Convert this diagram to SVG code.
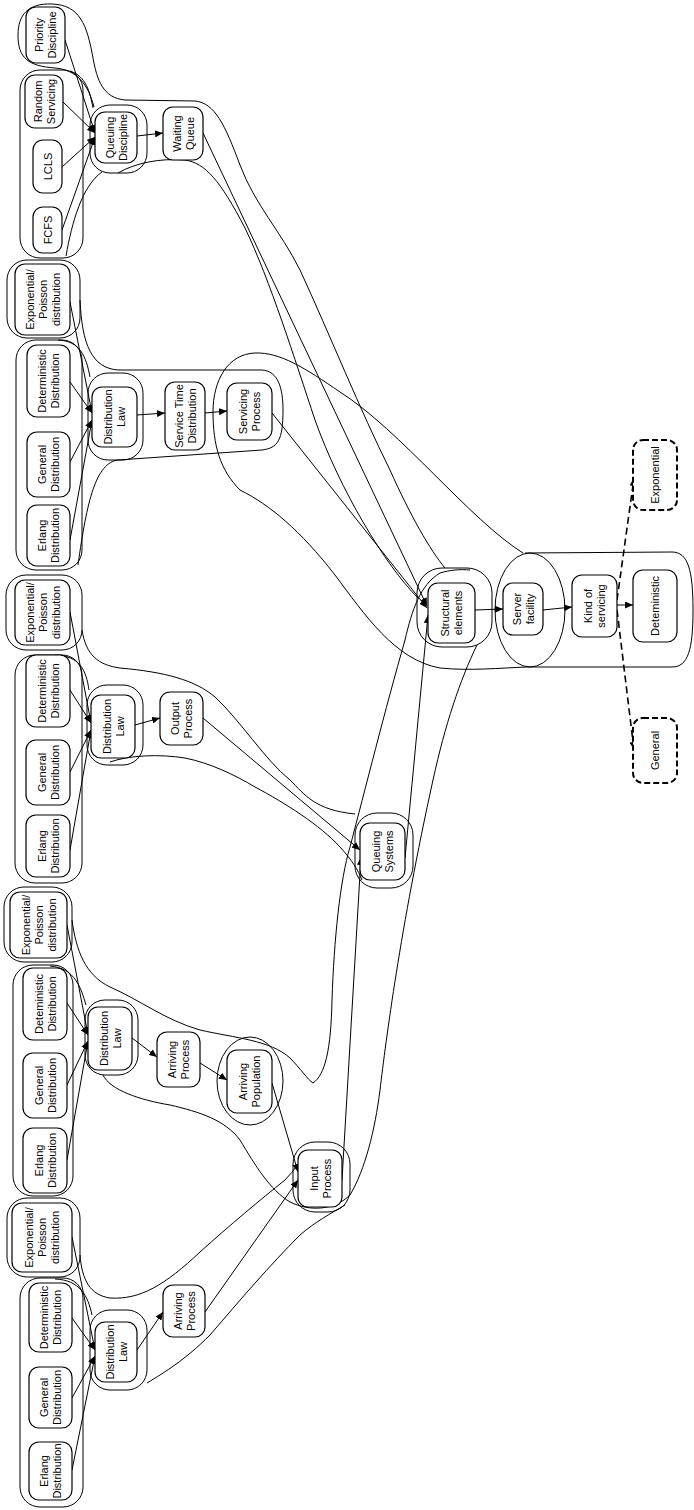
<svg xmlns="http://www.w3.org/2000/svg" width="694" height="1510" viewBox="0 0 694 1510">
<defs>
<marker id="ah" markerUnits="userSpaceOnUse" markerWidth="9" markerHeight="7" refX="8" refY="3.5" orient="auto"><path d="M0,0 L8,3.5 L0,7 z" fill="#000"/></marker>
<style>
.blob{fill:none;stroke:#000;stroke-width:1}
.n rect{fill:#fff;stroke:#000;stroke-width:1.2}
.n.d rect{stroke-width:2;stroke-dasharray:6,3}
.n text{font-family:"Liberation Sans",Arial,sans-serif;font-size:11px;fill:#000;text-anchor:middle}
.c{fill:none;stroke:#000;stroke-width:1;marker-end:url(#ah)}
.c.d{stroke-width:1.6;stroke-dasharray:7,4}
</style>
</defs>
<rect width="694" height="1510" fill="#fff"/>
<g id="blobs">
<rect class="blob" x="20" y="70" width="63" height="188" rx="20"/>
<rect class="blob" x="90" y="105" width="57" height="68" rx="20"/>
<path class="blob" d="M70,71 C86,76 90,92 93,108"/>
<path class="blob" d="M102,172 C82,186 72,222 66,256"/>
<path class="blob" d="M94,107 C88,84 77,70 55,68 C28,66 18,58 18,35 C18,15 28,3 52,4 C80,5 87,25 93,58 C97,80 103,98 125,100 L195,101 C215,103 225,125 240,165 C255,205 280,230 300,270 C330,335 360,410 390,470 C410,515 430,550 445,568"/>
<path class="blob" d="M118,173 C135,163 160,158 185,160 C205,163 220,180 245,228 C270,280 295,360 315,420 C340,490 385,565 418,598"/>
<rect class="blob" x="7" y="260" width="73" height="78" rx="20"/>
<rect class="blob" x="16" y="340" width="66" height="230" rx="20"/>
<rect class="blob" x="88" y="373" width="55" height="87" rx="20"/>
<path class="blob" d="M58,340 C80,341 86,356 90,377"/>
<path class="blob" d="M80,300 C82,345 92,368 118,370 L262,370 C278,371 283,388 283,410 C283,440 278,448 262,450 L118,460 C96,463 87,500 78,565"/>
<path class="blob" d="M523,553 C470,520 400,430 340,392 C305,368 280,352 255,353 C228,354 213,380 213,412 C213,445 220,470 240,490 C270,505 300,530 335,575 C365,615 395,660 440,668 C470,671 500,668 527,667"/>
<rect class="blob" x="6" y="575" width="76" height="75" rx="20"/>
<rect class="blob" x="15" y="655" width="67" height="228" rx="20"/>
<rect class="blob" x="87" y="685" width="56" height="80" rx="20"/>
<path class="blob" d="M55,655 C80,656 86,670 89,690"/>
<path class="blob" d="M82,630 C86,655 98,665 120,668 C165,672 195,680 215,697 C240,720 265,760 290,780 C305,795 315,810 355,814"/>
<path class="blob" d="M110,762 C130,755 160,754 185,758 C210,763 235,775 255,787 C285,803 320,825 340,847 C352,860 358,870 362,880"/>
<rect class="blob" x="355" y="813" width="58" height="75" rx="22"/>
<rect class="blob" x="4" y="887" width="68" height="75" rx="20"/>
<rect class="blob" x="13" y="965" width="60" height="231" rx="20"/>
<rect class="blob" x="85" y="1000" width="53" height="75" rx="20"/>
<path class="blob" d="M50,966 C75,968 81,988 86,1005"/>
<path class="blob" d="M72,920 C76,950 85,975 110,987 C140,1000 165,1020 200,1030 C235,1038 270,1040 290,1058 C300,1068 308,1080 313,1083 C325,1075 331,1050 332,1000 C334,940 340,880 350,847 C365,790 385,710 405,640 C412,610 420,585 440,573 C450,570 460,569 470,570"/>
<path class="blob" d="M103,1075 C110,1090 140,1100 170,1105 C200,1112 225,1120 240,1140 C255,1165 270,1190 290,1202 C310,1212 335,1210 350,1195 C365,1170 375,1130 380,1090 C386,1040 400,930 433,780 C445,725 460,680 477,645"/>
<ellipse class="blob" cx="250" cy="1081" rx="33" ry="44"/>
<rect class="blob" x="7" y="1198" width="73" height="79" rx="20"/>
<rect class="blob" x="20" y="1278" width="63" height="229" rx="20"/>
<rect class="blob" x="90" y="1310" width="57" height="80" rx="20"/>
<path class="blob" d="M55,1279 C80,1280 88,1296 92,1315"/>
<path class="blob" d="M80,1255 C82,1280 90,1295 110,1298 C140,1300 165,1285 200,1252 C230,1225 260,1200 285,1180 C295,1170 300,1160 310,1150"/>
<path class="blob" d="M147,1383 C165,1372 185,1360 210,1335 C240,1300 270,1265 300,1235 C315,1222 330,1214 345,1205"/>
<rect class="blob" x="293" y="1142" width="57" height="70" rx="22"/>
<rect class="blob" x="417" y="568" width="75" height="79" rx="25"/>
<ellipse class="blob" cx="530" cy="610" rx="35" ry="57"/>
<path class="blob" d="M525,553 L672,552 C688,552 693,570 693,610 C693,650 688,667 672,667 L527,667"/>
</g>
<g id="connectors">
<line class="c" x1="62" y1="230" x2="95" y2="137"/>
<line class="c" x1="62" y1="167" x2="95" y2="137"/>
<line class="c" x1="63" y1="102" x2="95" y2="133"/>
<line class="c" x1="65" y1="40" x2="95" y2="133"/>
<line class="c" x1="137" y1="136" x2="163" y2="133"/>
<line class="c" x1="203" y1="133" x2="427" y2="606"/>
<line class="c" x1="70" y1="302" x2="92" y2="413"/>
<line class="c" x1="70" y1="382" x2="92" y2="413"/>
<line class="c" x1="70" y1="462" x2="92" y2="420"/>
<line class="c" x1="70" y1="540" x2="92" y2="420"/>
<line class="c" x1="137" y1="415" x2="165" y2="413"/>
<line class="c" x1="205" y1="413" x2="227" y2="411"/>
<line class="c" x1="272" y1="413" x2="427" y2="608"/>
<line class="c" x1="70" y1="612" x2="91" y2="723"/>
<line class="c" x1="70" y1="690" x2="91" y2="723"/>
<line class="c" x1="70" y1="772" x2="91" y2="730"/>
<line class="c" x1="70" y1="850" x2="91" y2="730"/>
<line class="c" x1="135" y1="725" x2="160" y2="718"/>
<line class="c" x1="203" y1="718" x2="360" y2="850"/>
<line class="c" x1="67" y1="925" x2="88" y2="1035"/>
<line class="c" x1="67" y1="1003" x2="88" y2="1035"/>
<line class="c" x1="67" y1="1085" x2="88" y2="1041"/>
<line class="c" x1="67" y1="1160" x2="88" y2="1041"/>
<line class="c" x1="132" y1="1038" x2="157" y2="1057"/>
<line class="c" x1="200" y1="1063" x2="227" y2="1080"/>
<line class="c" x1="272" y1="1083" x2="298" y2="1172"/>
<line class="c" x1="72" y1="1237" x2="95" y2="1350"/>
<line class="c" x1="72" y1="1318" x2="95" y2="1350"/>
<line class="c" x1="72" y1="1398" x2="95" y2="1356"/>
<line class="c" x1="72" y1="1470" x2="95" y2="1356"/>
<line class="c" x1="137" y1="1350" x2="163" y2="1312"/>
<line class="c" x1="205" y1="1312" x2="298" y2="1180"/>
<line class="c" x1="342" y1="1180" x2="361" y2="857"/>
<line class="c" x1="405" y1="858" x2="428" y2="615"/>
<line class="c" x1="475" y1="610" x2="503" y2="609"/>
<line class="c" x1="543" y1="610" x2="572" y2="607"/>
<line class="c" x1="617" y1="605" x2="633" y2="605"/>
<line class="c d" x1="617" y1="600" x2="634" y2="478"/>
<line class="c d" x1="617" y1="610" x2="634" y2="750"/>
</g>
<g id="q_pri" class="n"><rect x="26" y="7" width="39" height="56" rx="10"/><text transform="translate(45.5 35) rotate(-90)"><tspan x="0" y="-2.5">Priority</tspan><tspan x="0" y="10.5">Discipline</tspan></text></g>
<g id="q_rand" class="n"><rect x="25" y="75" width="38" height="53" rx="10"/><text transform="translate(44 101.5) rotate(-90)"><tspan x="0" y="-2.5">Random</tspan><tspan x="0" y="10.5">Servicing</tspan></text></g>
<g id="q_lcls" class="n"><rect x="33" y="140" width="29" height="53" rx="10"/><text transform="translate(47.5 166.5) rotate(-90)"><tspan x="0" y="4">LCLS</tspan></text></g>
<g id="q_fcfs" class="n"><rect x="33" y="207" width="29" height="46" rx="10"/><text transform="translate(47.5 230) rotate(-90)"><tspan x="0" y="4">FCFS</tspan></text></g>
<g id="q_qd" class="n"><rect x="95" y="112" width="42" height="51" rx="10"/><text transform="translate(116 137.5) rotate(-90)"><tspan x="0" y="-2.5">Queuing</tspan><tspan x="0" y="10.5">Discipline</tspan></text></g>
<g id="q_wq" class="n"><rect x="163" y="107" width="40" height="53" rx="10"/><text transform="translate(183 133.5) rotate(-90)"><tspan x="0" y="-2.5">Waiting</tspan><tspan x="0" y="10.5">Queue</tspan></text></g>
<g id="s_exp" class="n"><rect x="15" y="264" width="55" height="71" rx="10"/><text transform="translate(42.5 299.5) rotate(-90)"><tspan x="0" y="-9">Exponential/</tspan><tspan x="0" y="4">Poisson</tspan><tspan x="0" y="17">distribution</tspan></text></g>
<g id="s_det" class="n"><rect x="27" y="345" width="43" height="72" rx="10"/><text transform="translate(48.5 381) rotate(-90)"><tspan x="0" y="-2.5">Deterministic</tspan><tspan x="0" y="10.5">Distribution</tspan></text></g>
<g id="s_gen" class="n"><rect x="27" y="432" width="43" height="65" rx="10"/><text transform="translate(48.5 464.5) rotate(-90)"><tspan x="0" y="-2.5">General</tspan><tspan x="0" y="10.5">Distribution</tspan></text></g>
<g id="s_erl" class="n"><rect x="27" y="505" width="43" height="61" rx="10"/><text transform="translate(48.5 535.5) rotate(-90)"><tspan x="0" y="-2.5">Erlang</tspan><tspan x="0" y="10.5">Distribution</tspan></text></g>
<g id="s_dl" class="n"><rect x="92" y="387" width="45" height="60" rx="10"/><text transform="translate(114.5 417) rotate(-90)"><tspan x="0" y="-2.5">Distribution</tspan><tspan x="0" y="10.5">Law</tspan></text></g>
<g id="s_std" class="n"><rect x="165" y="382" width="40" height="68" rx="10"/><text transform="translate(185 416) rotate(-90)"><tspan x="0" y="-2.5">Service Time</tspan><tspan x="0" y="10.5">Distribution</tspan></text></g>
<g id="s_sp" class="n"><rect x="227" y="383" width="45" height="57" rx="10"/><text transform="translate(249.5 411.5) rotate(-90)"><tspan x="0" y="-2.5">Servicing</tspan><tspan x="0" y="10.5">Process</tspan></text></g>
<g id="o_exp" class="n"><rect x="15" y="580" width="55" height="65" rx="10"/><text transform="translate(42.5 612.5) rotate(-90)"><tspan x="0" y="-9">Exponential/</tspan><tspan x="0" y="4">Poisson</tspan><tspan x="0" y="17">distribution</tspan></text></g>
<g id="o_det" class="n"><rect x="26" y="655" width="44" height="72" rx="10"/><text transform="translate(48 691) rotate(-90)"><tspan x="0" y="-2.5">Deterministic</tspan><tspan x="0" y="10.5">Distribution</tspan></text></g>
<g id="o_gen" class="n"><rect x="26" y="740" width="44" height="65" rx="10"/><text transform="translate(48 772.5) rotate(-90)"><tspan x="0" y="-2.5">General</tspan><tspan x="0" y="10.5">Distribution</tspan></text></g>
<g id="o_erl" class="n"><rect x="26" y="815" width="44" height="62" rx="10"/><text transform="translate(48 846) rotate(-90)"><tspan x="0" y="-2.5">Erlang</tspan><tspan x="0" y="10.5">Distribution</tspan></text></g>
<g id="o_dl" class="n"><rect x="91" y="695" width="44" height="63" rx="10"/><text transform="translate(113 726.5) rotate(-90)"><tspan x="0" y="-2.5">Distribution</tspan><tspan x="0" y="10.5">Law</tspan></text></g>
<g id="o_op" class="n"><rect x="160" y="692" width="43" height="53" rx="10"/><text transform="translate(181.5 718.5) rotate(-90)"><tspan x="0" y="-2.5">Output</tspan><tspan x="0" y="10.5">Process</tspan></text></g>
<g id="a_exp" class="n"><rect x="10" y="892" width="57" height="66" rx="10"/><text transform="translate(38.5 925) rotate(-90)"><tspan x="0" y="-9">Exponential/</tspan><tspan x="0" y="4">Poisson</tspan><tspan x="0" y="17">distribution</tspan></text></g>
<g id="a_det" class="n"><rect x="23" y="968" width="44" height="72" rx="10"/><text transform="translate(45 1004) rotate(-90)"><tspan x="0" y="-2.5">Deteministic</tspan><tspan x="0" y="10.5">Distribution</tspan></text></g>
<g id="a_gen" class="n"><rect x="23" y="1053" width="44" height="65" rx="10"/><text transform="translate(45 1085.5) rotate(-90)"><tspan x="0" y="-2.5">General</tspan><tspan x="0" y="10.5">Distribution</tspan></text></g>
<g id="a_erl" class="n"><rect x="23" y="1128" width="44" height="65" rx="10"/><text transform="translate(45 1160.5) rotate(-90)"><tspan x="0" y="-2.5">Erlang</tspan><tspan x="0" y="10.5">Distribution</tspan></text></g>
<g id="a_dl" class="n"><rect x="88" y="1007" width="44" height="63" rx="10"/><text transform="translate(110 1038.5) rotate(-90)"><tspan x="0" y="-2.5">Distribution</tspan><tspan x="0" y="10.5">Law</tspan></text></g>
<g id="a_ap" class="n"><rect x="157" y="1032" width="43" height="55" rx="10"/><text transform="translate(178.5 1059.5) rotate(-90)"><tspan x="0" y="-2.5">Arriving</tspan><tspan x="0" y="10.5">Process</tspan></text></g>
<g id="a_pop" class="n"><rect x="227" y="1050" width="45" height="63" rx="10"/><text transform="translate(249.5 1081.5) rotate(-90)"><tspan x="0" y="-2.5">Arriving</tspan><tspan x="0" y="10.5">Population</tspan></text></g>
<g id="i_exp" class="n"><rect x="12" y="1203" width="60" height="69" rx="10"/><text transform="translate(42 1237.5) rotate(-90)"><tspan x="0" y="-9">Exponential/</tspan><tspan x="0" y="4">Poisson</tspan><tspan x="0" y="17">distribution</tspan></text></g>
<g id="i_det" class="n"><rect x="29" y="1283" width="43" height="69" rx="10"/><text transform="translate(50.5 1317.5) rotate(-90)"><tspan x="0" y="-2.5">Deterministic</tspan><tspan x="0" y="10.5">Distribution</tspan></text></g>
<g id="i_gen" class="n"><rect x="29" y="1367" width="43" height="61" rx="10"/><text transform="translate(50.5 1397.5) rotate(-90)"><tspan x="0" y="-2.5">General</tspan><tspan x="0" y="10.5">Distribution</tspan></text></g>
<g id="i_erl" class="n"><rect x="29" y="1442" width="43" height="58" rx="10"/><text transform="translate(50.5 1471) rotate(-90)"><tspan x="0" y="-2.5">Erlang</tspan><tspan x="0" y="10.5">Distribution</tspan></text></g>
<g id="i_dl" class="n"><rect x="95" y="1322" width="42" height="60" rx="10"/><text transform="translate(116 1352) rotate(-90)"><tspan x="0" y="-2.5">Distribution</tspan><tspan x="0" y="10.5">Law</tspan></text></g>
<g id="i_ap" class="n"><rect x="163" y="1285" width="42" height="52" rx="10"/><text transform="translate(184 1311) rotate(-90)"><tspan x="0" y="-2.5">Arriving</tspan><tspan x="0" y="10.5">Process</tspan></text></g>
<g id="i_in" class="n"><rect x="298" y="1150" width="44" height="57" rx="10"/><text transform="translate(320 1178.5) rotate(-90)"><tspan x="0" y="-2.5">Input</tspan><tspan x="0" y="10.5">Process</tspan></text></g>
<g id="c_qs" class="n"><rect x="360" y="823" width="45" height="57" rx="10"/><text transform="translate(382.5 851.5) rotate(-90)"><tspan x="0" y="-2.5">Queuing</tspan><tspan x="0" y="10.5">Systems</tspan></text></g>
<g id="c_se" class="n"><rect x="428" y="583" width="47" height="60" rx="10"/><text transform="translate(451.5 613) rotate(-90)"><tspan x="0" y="-2.5">Structural</tspan><tspan x="0" y="10.5">elements</tspan></text></g>
<g id="c_sf" class="n"><rect x="503" y="583" width="40" height="52" rx="10"/><text transform="translate(523 609) rotate(-90)"><tspan x="0" y="-2.5">Server</tspan><tspan x="0" y="10.5">facility</tspan></text></g>
<g id="c_ks" class="n"><rect x="572" y="575" width="45" height="62" rx="10"/><text transform="translate(594.5 606) rotate(-90)"><tspan x="0" y="-2.5">Kind of</tspan><tspan x="0" y="10.5">servicing</tspan></text></g>
<g id="c_det" class="n"><rect x="633" y="570" width="44" height="72" rx="10"/><text transform="translate(655 606) rotate(-90)"><tspan x="0" y="4">Deteministic</tspan></text></g>
<g id="c_exp" class="n d"><rect x="633" y="440" width="44" height="70" rx="10"/><text transform="translate(655 475) rotate(-90)"><tspan x="0" y="4">Exponential</tspan></text></g>
<g id="c_gen" class="n d"><rect x="633" y="718" width="44" height="65" rx="10"/><text transform="translate(655 750.5) rotate(-90)"><tspan x="0" y="4">General</tspan></text></g>
</svg>
